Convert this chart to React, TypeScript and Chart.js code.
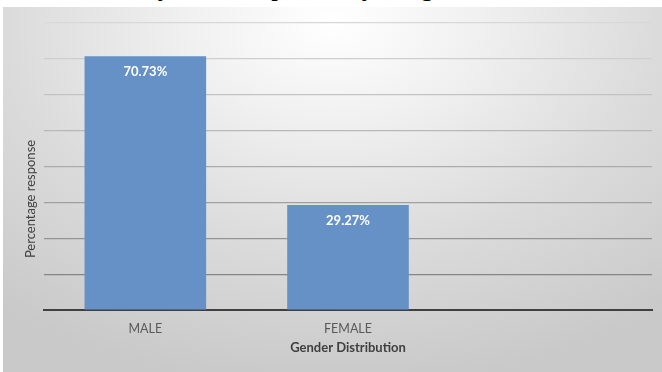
import React, { useEffect, useRef } from "react";
import { Chart, registerables } from "chart.js";

Chart.register(...registerables);

const categories = ["MALE", "FEMALE", ""];
const percentages = [70.73, 29.27, null];
const valueLabels = ["70.73%", "29.27%", ""];
const yTicks = [0, 10, 20, 30, 40, 50, 60, 70, 80];
const xTitle = "Gender Distribution";
const yTitle = "Percentage response";
const topText = "ture, the survey was compassed by the gender distribution of the";

const gridColors: Record<number, string> = {
  0: "rgba(0,0,0,0)",
  10: "#858585",
  20: "#939393",
  30: "#a0a0a0",
  40: "#acacac",
  50: "#b8b8b8",
  60: "#c3c3c3",
  70: "#cecece",
  80: "#d8d8d8",
};

const FONT = "Lato, 'Open Sans', sans-serif";

const labelsPlugin = {
  id: "customLabels",
  afterDatasetsDraw(chart: any) {
    const ctx = chart.ctx;
    const meta = chart.getDatasetMeta(0);
    ctx.save();
    ctx.fillStyle = "#ffffff";
    ctx.font = `bold 13px ${FONT}`;
    ctx.textAlign = "center";
    ctx.textBaseline = "middle";
    meta.data.forEach((bar: any, i: number) => {
      if (percentages[i] == null) return;
      ctx.fillText(valueLabels[i], bar.x, bar.y + 15.5);
    });
    ctx.restore();
  },
  afterDraw(chart: any) {
    const ctx = chart.ctx;
    const area = chart.chartArea;
    ctx.save();
    ctx.fillStyle = "#404040";
    ctx.font = `bold 13px ${FONT}`;
    ctx.textAlign = "center";
    ctx.textBaseline = "middle";
    ctx.fillText(xTitle, (area.left + area.right) / 2, area.bottom + 38);
    ctx.translate(28, 192);
    ctx.rotate(-Math.PI / 2);
    ctx.font = `13px ${FONT}`;
    ctx.fillText(yTitle, 0, 0);
    ctx.restore();
  },
};

export default function App() {
  const canvasRef = useRef<HTMLCanvasElement | null>(null);

  useEffect(() => {
    document.body.style.margin = "0";
    const canvas = canvasRef.current;
    if (!canvas) return;
    const chart = new Chart(canvas, {
      type: "bar",
      data: {
        labels: categories,
        datasets: [
          {
            data: percentages as any,
            backgroundColor: "rgb(101,145,199)",
            borderWidth: 0,
            barPercentage: 0.6,
            categoryPercentage: 1,
          },
        ],
      },
      options: {
        animation: false,
        responsive: false,
        maintainAspectRatio: false,
        layout: { padding: { left: 41, right: 10, top: 16, bottom: 0 } },
        plugins: {
          legend: { display: false },
          tooltip: { enabled: false },
          title: { display: false },
        },
        scales: {
          x: {
            grid: { display: false, drawTicks: false },
            border: { display: true, color: "#404040", width: 2 },
            ticks: {
              color: "#595959",
              font: { family: FONT, size: 12.5 },
              padding: 11,
            },
            afterFit(scale: any) {
              scale.height = 62;
            },
          },
          y: {
            min: 0,
            max: 80,
            afterBuildTicks(scale: any) {
              scale.ticks = yTicks.map((v) => ({ value: v }));
            },
            ticks: { display: false },
            grid: {
              drawTicks: false,
              lineWidth: 1.2,
              color: (ctx: any) => gridColors[ctx.tick?.value] ?? "#bbbbbb",
            },
            border: { display: false },
            afterFit(scale: any) {
              scale.width = 0;
            },
          },
        },
      },
      plugins: [labelsPlugin],
    });
    return () => chart.destroy();
  }, []);

  return (
    <div
      style={{
        position: "fixed",
        left: 0,
        top: 0,
        width: 662,
        height: 372,
        background: "#ffffff",
        overflow: "hidden",
      }}
    >
      <div
        style={{
          position: "absolute",
          left: 7,
          top: -27,
          whiteSpace: "nowrap",
          fontFamily: "'Liberation Serif', 'Times New Roman', serif",
          fontSize: 26.5,
          lineHeight: "27px",
          color: "#000",
        }}
      >
        {topText}
      </div>
      <div
        style={{
          position: "absolute",
          left: 3,
          top: 7,
          width: 659,
          height: 365,
          background:
            "radial-gradient(ellipse 80% 100% at 50% 4%, #ffffff 0%, #f0f0f0 28%, #dbdbdb 62%, #c9c9c9 100%)",
        }}
      >
        <canvas ref={canvasRef} width={659} height={365} style={{ display: "block" }} />
      </div>
    </div>
  );
}
